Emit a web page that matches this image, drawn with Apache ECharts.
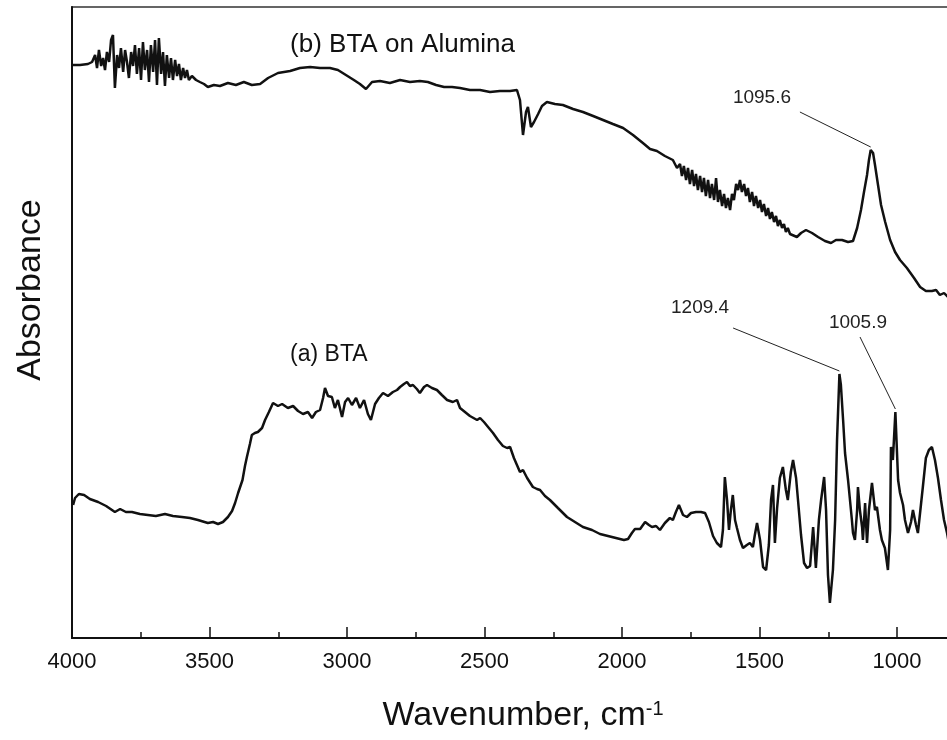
<!DOCTYPE html>
<html>
<head>
<meta charset="utf-8">
<script src="https://cdn.jsdelivr.net/npm/echarts@6/dist/echarts.min.js"></script>
<style>
  html, body { margin: 0; padding: 0; background: #fff; }
  #chart { width: 947px; height: 740px; }
</style>
</head>
<body>
<div id="chart"></div>
<script>
// FTIR spectra: (a) pure BTA, (b) BTA adsorbed on alumina. Absorbance in arbitrary units.
const wnB = [4000, 3971, 3942, 3927, 3916, 3909, 3902, 3894, 3887, 3880, 3873, 3865, 3858, 3851, 3844, 3836, 3829, 3822, 3814, 3807,
  3800, 3793, 3785, 3778, 3771, 3764, 3756, 3749, 3742, 3735, 3727, 3720, 3713, 3705, 3698, 3691, 3684, 3676, 3669, 3662,
  3655, 3647, 3640, 3633, 3625, 3618, 3611, 3604, 3596, 3589, 3582, 3575, 3564, 3549, 3535, 3520, 3506, 3484, 3462, 3433,
  3404, 3375, 3346, 3316, 3287, 3251, 3207, 3171, 3134, 3098, 3062, 3033, 3004, 2975, 2953, 2931, 2909, 2880, 2844, 2807,
  2771, 2735, 2706, 2676, 2647, 2618, 2589, 2553, 2516, 2480, 2444, 2407, 2382, 2371, 2360, 2349, 2342, 2331, 2320, 2305,
  2291, 2273, 2244, 2215, 2178, 2142, 2105, 2069, 2033, 1996, 1960, 1924, 1898, 1873, 1844, 1815, 1800,
  1789, 1782, 1775, 1767, 1760, 1753, 1745, 1738, 1731, 1724, 1716, 1709, 1702, 1695, 1687, 1680, 1673, 1665, 1658, 1651,
  1644, 1636, 1629, 1622, 1615, 1607, 1600, 1593, 1585, 1578, 1571, 1564, 1556, 1549, 1542, 1535, 1527, 1520, 1513, 1505,
  1498, 1491, 1484, 1476, 1469, 1462, 1455, 1447, 1440, 1433, 1426, 1418, 1411, 1404, 1397, 1389,
  1364, 1349, 1331, 1309, 1287, 1262, 1240,
  1222, 1200, 1178, 1160, 1145, 1131, 1120, 1109, 1102, 1095.6, 1087, 1080, 1069, 1058, 1043, 1025, 1007, 989, 964, 938,
  916, 895, 873, 858, 844, 829, 815];
const absB = [573, 573, 574, 576, 583, 570, 588, 572, 580, 568, 586, 576, 598, 603, 550, 583, 570, 590, 566, 588,
  576, 560, 586, 572, 593, 564, 590, 558, 596, 568, 588, 556, 593, 566, 598, 553, 600, 564, 586, 552,
  583, 560, 580, 558, 578, 562, 574, 558, 570, 560, 568, 558, 562, 558, 556, 554, 551, 553, 552, 555,
  553, 556, 553, 554, 560, 565, 567, 570, 571, 570, 570, 568, 563, 558, 554, 549, 556, 557, 555, 558,
  556, 557, 556, 553, 551, 551, 550, 548, 548, 546, 547, 547, 548, 538, 503, 526, 531, 511, 516, 524,
  532, 536, 534, 533, 529, 526, 522, 518, 514, 510, 503, 495, 489, 487, 482, 478, 470,
  474, 462, 472, 458, 470, 454, 468, 452, 464, 448, 462, 446, 460, 442, 458, 440, 454, 438, 460, 436,
  448, 432, 444, 430, 440, 428, 444, 438, 454, 448, 458, 446, 454, 442, 450, 436, 446, 432, 442, 430,
  438, 426, 434, 422, 430, 419, 426, 416, 422, 412, 418, 410, 414, 406, 410, 404,
  401, 405, 408, 405, 401, 397, 395,
  398, 398, 396, 397, 410, 428, 446, 463, 478, 488, 485, 473, 453, 433, 416, 398, 386, 378, 370, 360,
  351, 347, 347, 348, 343, 345, 341];

const wnA = [3996, 3989, 3975, 3956, 3935, 3905, 3876, 3844, 3825, 3804, 3782, 3753, 3724, 3695, 3662, 3633, 3600, 3571, 3542, 3506,
  3487, 3469, 3451, 3433, 3418, 3407, 3396, 3380, 3371, 3364, 3353, 3346, 3335, 3324, 3309, 3298, 3284, 3269, 3251, 3236,
  3215, 3196, 3178, 3160, 3142, 3127, 3113, 3098, 3087, 3080, 3069, 3055, 3044, 3033, 3018, 3007, 2996, 2982, 2967, 2953,
  2938, 2924, 2913, 2898, 2884, 2869, 2851, 2833, 2818, 2807, 2793, 2782, 2771, 2760, 2746, 2735, 2720, 2709, 2691, 2673,
  2655, 2636, 2615, 2600, 2589, 2571, 2553, 2527, 2516, 2502, 2484, 2469, 2451, 2433, 2418, 2407, 2393, 2382, 2371, 2360,
  2345, 2324, 2309, 2298, 2280, 2262, 2233, 2200, 2171, 2142, 2109, 2080, 2051, 2022, 1993, 1978, 1964, 1953, 1934, 1916,
  1902, 1891, 1876, 1862, 1844, 1826, 1815, 1804, 1793, 1778, 1764, 1749, 1731, 1713, 1698, 1684, 1669, 1655, 1640, 1633,
  1626, 1618, 1611, 1604, 1597, 1589, 1582, 1571, 1560, 1546, 1535, 1524, 1517, 1509, 1498, 1487, 1476, 1466, 1458, 1451,
  1444, 1436, 1426, 1415, 1404, 1397, 1386, 1378, 1367, 1360, 1349, 1338, 1327, 1316, 1305, 1295, 1284, 1276, 1265, 1258,
  1251, 1244, 1233, 1225, 1218, 1209.4, 1204, 1196, 1189, 1178, 1171, 1164, 1160, 1153, 1145, 1142, 1135, 1127, 1124, 1116,
  1109, 1102, 1091, 1080, 1073, 1062, 1055, 1044, 1033, 1025, 1022, 1015, 1005.9, 996, 989, 978, 971, 960, 949, 942,
  931, 924, 913, 906, 895, 884, 873, 862, 851, 840, 829, 818, 807];
const absA = [133, 140, 144, 143, 139, 136, 132, 126, 129, 126, 126, 124, 123, 122, 124, 122, 121, 120, 118, 115,
  116, 114, 116, 121, 127, 135, 145, 158, 172, 181, 194, 203, 205, 206, 210, 218, 226, 235, 232, 234,
  230, 232, 227, 224, 226, 220, 226, 228, 240, 250, 242, 241, 230, 238, 221, 236, 240, 233, 240, 230,
  238, 224, 218, 234, 240, 245, 242, 246, 248, 251, 254, 256, 252, 253, 249, 245, 251, 253, 250, 248,
  243, 238, 236, 238, 230, 226, 222, 218, 220, 216, 210, 205, 198, 192, 190, 191, 180, 173, 166, 168,
  160, 151, 149, 148, 142, 138, 130, 121, 116, 111, 108, 104, 102, 100, 98, 99, 105, 109, 109, 116,
  113, 111, 112, 108, 115, 120, 118, 126, 133, 123, 121, 125, 126, 126, 125, 116, 102, 95, 91, 108,
  161, 138, 108, 128, 143, 118, 110, 98, 90, 93, 95, 91, 103, 115, 98, 71, 68, 93, 138, 153,
  95, 130, 160, 171, 148, 138, 166, 178, 160, 138, 103, 75, 70, 72, 111, 70, 118, 138, 161, 128,
  63, 35, 68, 118, 198, 264, 253, 218, 185, 158, 138, 118, 105, 98, 128, 151, 128, 111, 98, 135,
  95, 128, 155, 128, 131, 108, 98, 90, 68, 108, 191, 178, 226, 158, 145, 133, 118, 105, 116, 128,
  113, 105, 133, 151, 180, 188, 191, 178, 160, 138, 118, 105, 88];

const xTickStep = 500;
const FONT = '"Liberation Sans", Arial, Helvetica, sans-serif';
const INK = '#111';

function pairs(xs, ys) { return xs.map((x, i) => [x, ys[i]]); }
function valueAt(xs, ys, x) { return ys[xs.indexOf(x)]; }

// Peak annotations: label anchor and leader-line start are layout positions in axis units.
const peakNotes = [
  { text: '1095.6', series: 'b', labelAt: [1491, 540], lineFrom: [1353, 526] },
  { text: '1209.4', series: 'a', labelAt: [1716, 330], lineFrom: [1596, 310] },
  { text: '1005.9', series: 'a', labelAt: [1142, 315], lineFrom: [1134.5, 301] }
];

function notesFor(key, xs, ys) {
  const list = peakNotes.filter(n => n.series === key);
  const lines = list.map(n => {
    const wn = parseFloat(n.text);
    return [{ coord: n.lineFrom }, { coord: [wn, valueAt(xs, ys, wn) + 3] }];
  });
  const labels = list.map(n => ({
    coord: n.labelAt, symbol: 'circle', symbolSize: 0,
    label: { show: true, position: 'inside', formatter: n.text, fontSize: 19, color: '#222', fontFamily: FONT }
  }));
  return { lines, labels };
}

const nb = notesFor('b', wnB, absB);
const na = notesFor('a', wnA, absA);

const chart = echarts.init(document.getElementById('chart'), null, { renderer: 'canvas' });

const lineStyle = { color: INK, width: 2.5 };
const markLineBase = {
  silent: true, symbol: ['none', 'none'], animation: false,
  lineStyle: { color: '#222', width: 1, type: 'solid' },
  label: { show: false }, emphasis: { disabled: true }
};

chart.setOption({
  animation: false,
  backgroundColor: '#fff',
  // The wavenumber axis runs on to 500 cm-1; the low end lies past the right edge of the page.
  grid: {
    left: 72, width: 962.5, top: 7, height: 631,
    outerBoundsMode: 'none', containLabel: false,
    show: true, borderColor: '#333', borderWidth: 1.5
  },
  xAxis: {
    type: 'value', inverse: true, min: 500, max: 4000, interval: xTickStep,
    axisLine: { show: true, lineStyle: { color: INK, width: 2 } },
    axisTick: { show: true, inside: true, length: 11, lineStyle: { color: INK, width: 1.5 } },
    minorTick: { show: true, splitNumber: 2, length: 6, lineStyle: { color: INK, width: 1.5 } },
    splitLine: { show: false },
    axisLabel: { fontSize: 22, margin: 13, color: INK, fontFamily: FONT, formatter: v => String(v) }
  },
  yAxis: {
    type: 'value', min: 0, max: 631,
    axisLine: { show: true, lineStyle: { color: INK, width: 2 } },
    axisTick: { show: false }, axisLabel: { show: false }, splitLine: { show: false }
  },
  series: [
    {
      name: '(b) BTA on Alumina', type: 'line', data: pairs(wnB, absB),
      showSymbol: false, symbol: 'none', lineStyle, silent: true,
      markLine: Object.assign({ data: nb.lines }, markLineBase),
      markPoint: {
        silent: true, animation: false,
        data: nb.labels.concat([{
          coord: [3207, 593], symbol: 'circle', symbolSize: 0,
          label: { show: true, position: 'right', distance: 0, formatter: '(b) BTA on Alumina', fontSize: 26, color: INK, fontFamily: FONT }
        }])
      }
    },
    {
      name: '(a) BTA', type: 'line', data: pairs(wnA, absA),
      showSymbol: false, symbol: 'none', lineStyle, silent: true,
      markLine: Object.assign({ data: na.lines }, markLineBase),
      markPoint: {
        silent: true, animation: false,
        data: na.labels.concat([{
          coord: [3207, 283], symbol: 'circle', symbolSize: 0,
          label: { show: true, position: 'right', distance: 0, formatter: '(a) BTA', fontSize: 23, color: INK, fontFamily: FONT }
        }])
      }
    }
  ],
  graphic: [
    {
      type: 'text', x: 31, y: 290, rotation: Math.PI / 2,
      style: { text: 'Absorbance', fontSize: 34, fontFamily: FONT, fill: INK, align: 'center', verticalAlign: 'middle' }
    },
    {
      type: 'text', x: 523, y: 716,
      style: {
        text: '{a|Wavenumber, cm}{s|-1}', align: 'center', verticalAlign: 'middle', fill: INK,
        rich: {
          a: { fontSize: 34, fontFamily: FONT, fill: INK },
          s: { fontSize: 20, fontFamily: FONT, fill: INK, verticalAlign: 'top' }
        }
      }
    }
  ]
});
</script>
</body>
</html>
